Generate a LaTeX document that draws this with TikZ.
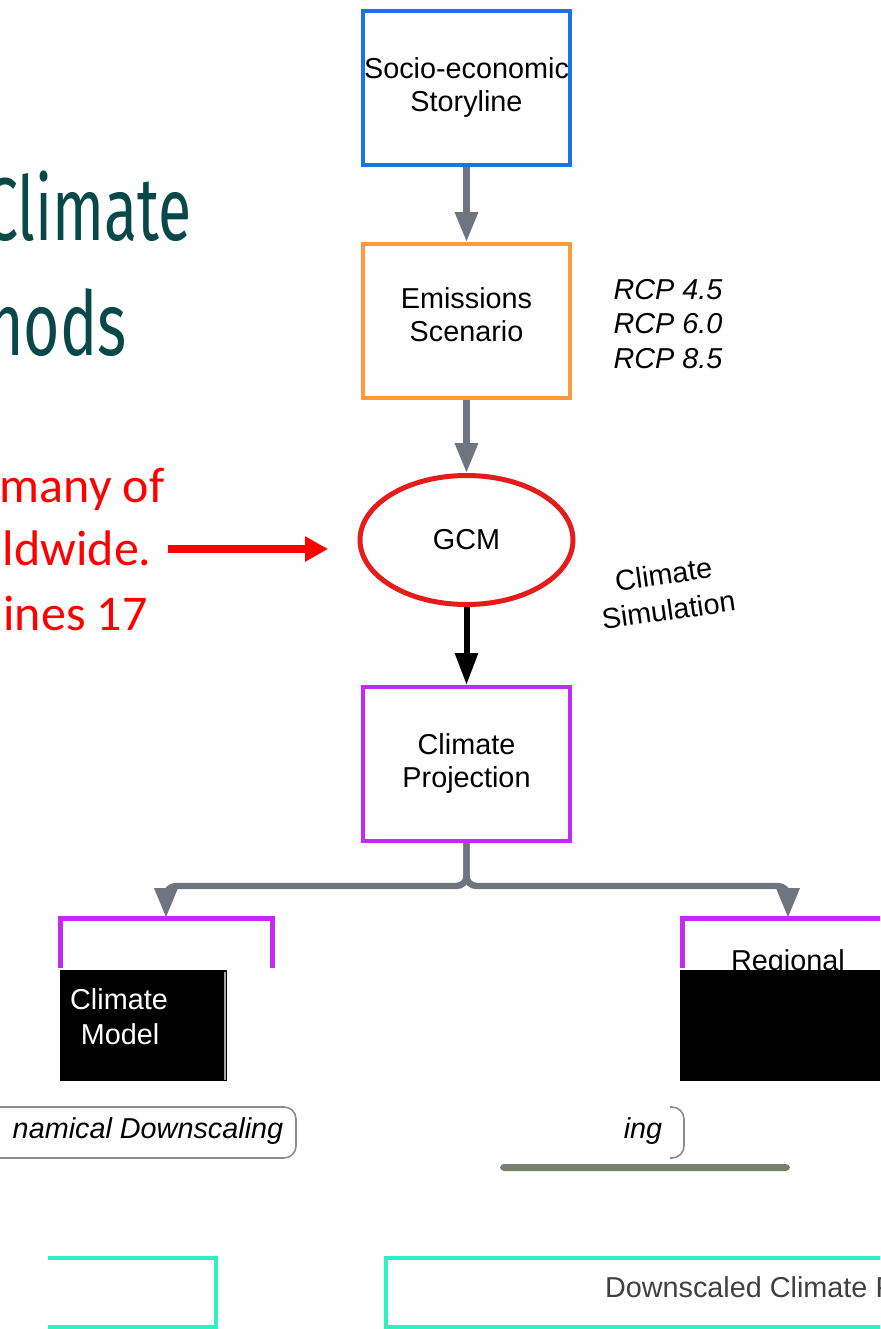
\documentclass[tikz,border=0pt]{standalone}
\usepackage{fontspec}
\setmainfont{Liberation Sans}
\newfontfamily\titlefont{Fira Sans}
\newfontfamily\notefont{Carlito}
\usepackage{graphicx}
\usetikzlibrary{arrows.meta,shapes,calc,positioning}
\definecolor{storyblue}{RGB}{26,115,232}
\definecolor{emisorange}{RGB}{255,154,60}
\definecolor{gcmred}{RGB}{229,28,28}
\definecolor{projpurple}{RGB}{192,44,245}
\definecolor{flowgray}{RGB}{111,117,128}
\definecolor{titleteal}{RGB}{8,72,72}
\definecolor{outaqua}{RGB}{42,242,192}
\definecolor{shadowgray}{RGB}{122,128,112}
\tikzstyle{stage}=[draw,line width=2pt,minimum width=103.5pt,minimum height=77pt,inner sep=0pt,align=center]
\tikzstyle{model}=[stage,ellipse,line width=2.5pt,minimum width=106.5pt,minimum height=64.5pt]
\tikzstyle{hidden}=[stage,draw=none,minimum width=104pt]
\tikzstyle{flow}=[line width=3.2pt,draw=flowgray,-{Triangle[length=15pt,width=11pt]}]
\tikzstyle{pointer}=[line width=4pt,draw=red,-{Triangle[length=11.5pt,width=12pt]}]
\tikzstyle{note}=[inner sep=0pt,text=red,font=\notefont\fontsize{25}{30}\selectfont]
\tikzstyle{heading}=[anchor=base east,inner sep=0pt,text=titleteal,font=\titlefont\fontsize{44.6}{50}\selectfont]
\tikzstyle{tag}=[font=\fontsize{14.4}{17.3}\selectfont\itshape,align=left]
\tikzstyle{projline}=[draw=projpurple,line width=2.5pt]
\tikzstyle{methodline}=[draw=black!45,line width=0.8pt]
\tikzstyle{outline}=[draw=outaqua,line width=2pt]

\begin{document}
\begin{tikzpicture}[x=0.5pt,y=-0.5pt,font=\fontsize{14.4}{16.5}\selectfont]
\useasboundingbox (0,0) rectangle (880,1329);
\clip (0,0) rectangle (880,1329);
        % title and note on the left
        \node[heading] (TitleA) at (192,240) {\scalebox{0.68}[1]{Climate}};
        \node[heading] (TitleB) at (127,355) {\scalebox{0.7}[1]{Methods}};
        \foreach \t/\x/\y [count=\i] in {many of/165/502, ldwide./152/565, ines 17/148/630}
          \node[note,anchor=base east] (Note\i) at (\x,\y) {\t};
        \coordinate (pinA) at (168,549);
        \coordinate (pinB) at (328,549);
        \draw[pointer] (pinA) -- (pinB);

        % main chain
        \node[stage,draw=storyblue] (Story) at (466.5,88) {Socio-economic\\Storyline};
        \node[stage,draw=emisorange] (Emis) at (466.5,321) {Emissions\\Scenario\rule[-6pt]{0pt}{1pt}};
        \node[model,draw=gcmred] (GCM) at (466.5,540) {GCM};
        \node[stage,draw=projpurple] (Proj) at (466.5,764) {Climate\\Projection};
        \foreach \a/\b in {Story/Emis, Emis/GCM}
          \draw[flow] (\a) -- (\b);
        \draw[flow,draw=black,line width=3pt,-{Triangle[length=16pt,width=11pt]}] (GCM) -- (Proj);
        \node[tag] (Rcp) at (668,324) {RCP 4.5\\RCP 6.0\\RCP 8.5};
        \node[rotate=8,align=center,font=\fontsize{14.4}{18}\selectfont] (Sim) at (666,592) {Climate\\Simulation};

        % the two branches
        \node[hidden] (Dyn) at (166,997) {};
        \node[hidden] (Reg) at (788,997) {};
        \foreach \to in {Dyn, Reg}
          \draw[flow,rounded corners=5pt] (Proj.south) -- ++(0,43) -| (\to.north);
        \draw[projline] ($(Dyn.north west)+(0,50)$) -- (Dyn.north west) -- (Dyn.north east) -- ($(Dyn.north east)+(0,50)$);
        \draw[projline] ($(Reg.north west)+(0,50)$) -- (Reg.north west) -- (Reg.north east);
        \node (RegTxt) at (788,963) {Regional};
        \fill[black] (60,970) rectangle (227,1081);
        \fill[black] (680,970) rectangle (880,1081);
        \draw[black!35,line width=1pt] (225,972) -- (225,1080);
        \node[text=white] (DynTxtA) at (119,999) {Climate};
        \node[text=white] (DynTxtB) at (120,1034) {Model};

        % method boxes
        \draw[methodline,rounded corners=6pt] (-20,1107) rectangle (296,1158);
        \node[tag] (DynLbl) at (148,1131) {namical Downscaling};
        \draw[methodline,rounded corners=6pt] (670,1107) -- (684,1107) -- (684,1158) -- (670,1158);
        \node[tag] (StatLbl) at (643,1131) {ing};
        \fill[shadowgray,rounded corners=2pt] (500,1164) rectangle (790,1171);

        % outputs
        \draw[outline] (48,1258) -- (216,1258) -- (216,1327) -- (48,1327);
        \draw[outline] (900,1258) -- (386,1258) -- (386,1327) -- (900,1327);
        \node[anchor=west,text=black!75] (OutTxt) at (598,1290) {Downscaled Climate Projection};
      \end{tikzpicture}
\end{document}
